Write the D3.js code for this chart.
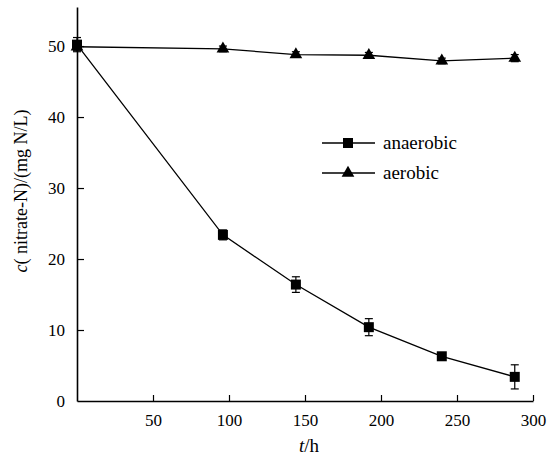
<!DOCTYPE html>
<html><head><meta charset="utf-8">
<script src="https://cdn.jsdelivr.net/npm/d3@7"></script>
<style>body{margin:0;background:#fff}svg{display:block}svg text{font-family:"Liberation Serif",Tinos,"Times New Roman",Times,"DejaVu Serif",serif !important;fill:#000}</style>
</head><body><svg id="c" width="560" height="461"></svg>
<script>
const times = [0, 96, 144, 192, 240, 288];
const anaerobic = [50.2, 23.4, 16.4, 10.4, 6.3, 3.4];
const anaerobicErr = [1.0, 0.7, 1.1, 1.2, 0.5, 1.7];
const aerobic = [49.9, 49.6, 48.8, 48.7, 47.9, 48.3];
const aerobicErr = [0.5, 0.4, 0.4, 0.4, 0.4, 0.5];
const xTicks = [50, 100, 150, 200, 250, 300];
const yTicks = [0, 10, 20, 30, 40, 50];
const seriesNames = ["anaerobic", "aerobic"];

const svg = d3.select("#c");
const x = d3.scaleLinear().domain([0, 300]).range([77, 533]);
const y = d3.scaleLinear().domain([0, 55.5]).range([401, 7]);

const xa = svg.append("g").attr("transform", "translate(0,401)")
  .call(d3.axisBottom(x).tickValues(xTicks).tickSizeInner(-6).tickSizeOuter(0).tickPadding(13));
const ya = svg.append("g").attr("transform", "translate(77,0)")
  .call(d3.axisLeft(y).tickValues(yTicks).tickSizeInner(-7).tickSizeOuter(0).tickPadding(12));
[xa, ya].forEach(g => {
  g.attr("font-family", null);
  g.select(".domain").attr("stroke", "#000").attr("stroke-width", 1.6);
  g.selectAll(".tick line").attr("stroke", "#000").attr("stroke-width", 1.2);
  g.selectAll(".tick text").style("font-size", "17px").attr("fill", "#000");
});
ya.selectAll(".tick").filter(d => d === 0).select("line").remove();
ya.selectAll(".tick text").attr("dy", "0.35em");

const line = d3.line().x((d, i) => x(times[i])).y(d => y(d));
const sq = d3.symbol().type(d3.symbolSquare).size(100);
const tri = d3.symbol().type(d3.symbolTriangle).size(70);

function drawSeries(vals, errs, sym) {
  svg.append("path").attr("d", line(vals)).attr("fill", "none").attr("stroke", "#000").attr("stroke-width", 1.3);
  const g = svg.append("g");
  vals.forEach((v, i) => {
    const cx = x(times[i]), y1 = y(v + errs[i]), y2 = y(v - errs[i]);
    g.append("line").attr("x1", cx).attr("x2", cx).attr("y1", y1).attr("y2", y2).attr("stroke", "#000").attr("stroke-width", 1.2);
    g.append("line").attr("x1", cx - 4).attr("x2", cx + 4).attr("y1", y1).attr("y2", y1).attr("stroke", "#000").attr("stroke-width", 1.2);
    g.append("line").attr("x1", cx - 4).attr("x2", cx + 4).attr("y1", y2).attr("y2", y2).attr("stroke", "#000").attr("stroke-width", 1.2);
    g.append("path").attr("d", sym()).attr("transform", `translate(${cx},${y(v)})`).attr("fill", "#000");
  });
}
drawSeries(aerobic, aerobicErr, tri);
drawSeries(anaerobic, anaerobicErr, sq);

const syms = [sq, tri];
seriesNames.forEach((n, i) => {
  const ly = 143 + i * 30;
  svg.append("line").attr("x1", 322).attr("x2", 375).attr("y1", ly).attr("y2", ly).attr("stroke", "#000").attr("stroke-width", 1.3);
  svg.append("path").attr("d", syms[i]()).attr("transform", `translate(348,${ly})`).attr("fill", "#000");
  svg.append("text").attr("x", 383).attr("y", ly).attr("dy", "0.32em").style("font-size", "19px").text(n);
});

const yl = svg.append("text").attr("transform", "translate(27,191) rotate(-90)").attr("text-anchor", "middle").style("font-size", "18px");
yl.append("tspan").style("font-style", "italic").text("c");
yl.append("tspan").text("( nitrate-N)/(mg N/L)");
const xl = svg.append("text").attr("x", 309).attr("y", 452).attr("text-anchor", "middle").style("font-size", "19px");
xl.append("tspan").style("font-style", "italic").text("t");
xl.append("tspan").text("/h");
</script></body></html>
